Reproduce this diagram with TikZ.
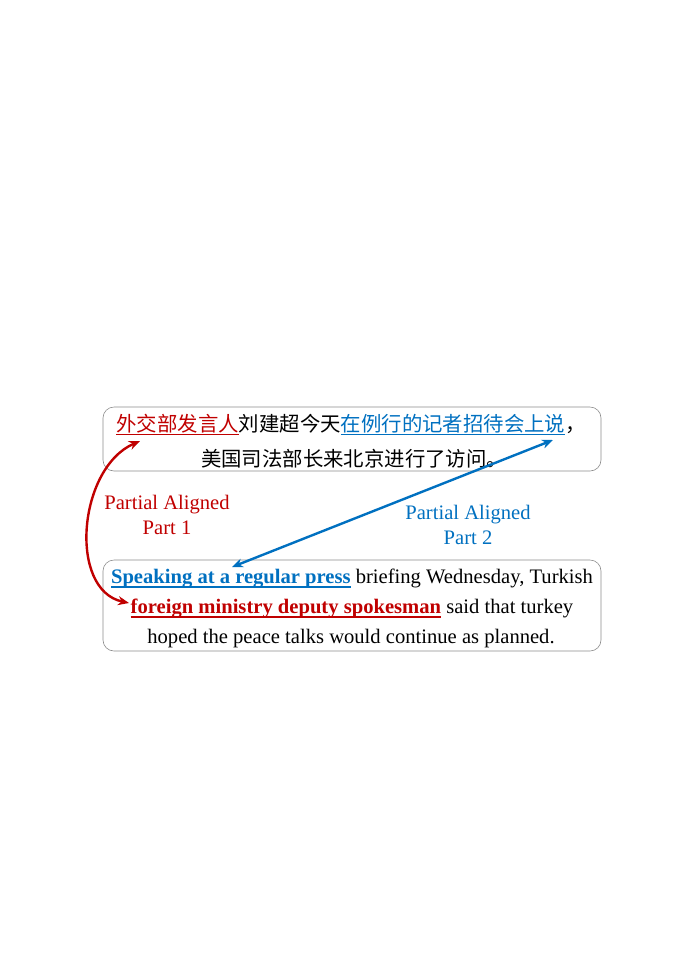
\documentclass[tikz,border=0pt]{standalone}
\usepackage{fontspec}
\setmainfont{Liberation Serif}
\newfontfamily\cjk{Noto Sans CJK SC}
\newcommand\myul[2][-4.2pt]{\setbox0\hbox{#2}\rlap{\rule[#1]{\wd0}{1.4pt}}\box0}
\usetikzlibrary{arrows.meta}
\definecolor{myred}{RGB}{192,0,0}
\definecolor{myblue}{RGB}{0,112,192}
\begin{document}
\begin{tikzpicture}[x=1pt,y=-1pt,
  box/.style={draw=black!45,line width=0.6pt,rounded corners=11pt},
  line/.style={anchor=base,inner sep=0pt,font=\fontsize{20.6}{24}\selectfont},
  cjkline/.style={anchor=base,inner sep=0pt,font=\fontsize{20.4}{24}\selectfont\cjk},
  lbl/.style={align=center,font=\fontsize{20.6}{24.5}\selectfont},
  conn/.style={line width=2.4pt,{Stealth[length=11pt,width=9pt]}-{Stealth[length=11pt,width=9pt]}}]
\useasboundingbox (0,0) rectangle (677,954);
% boxes
\draw[box] (103,407) rectangle (601,471);
\draw[box] (103,560) rectangle (601,651);
% top Chinese text
\node[cjkline] (c1) at (351,431) {\textcolor{myred}{\myul{外交部发言人}}刘建超今天\textcolor{myblue}{\myul{在例行的记者招待会上说}}，};
\node[cjkline] (c2) at (354,466) {美国司法部长来北京进行了访问。};
% bottom English text
\node[line] (e1) at (352,583) {\textcolor{myblue}{\textbf{\myul[-4.8pt]{Speaking at a regular press}}} briefing Wednesday, Turkish};
\node[line] (e2) at (352,613) {\textcolor{myred}{\textbf{\myul[-4.8pt]{foreign ministry deputy spokesman}}} said that turkey};
\node[line] (e3) at (351,643) {hoped the peace talks would continue as planned.};
% labels
\node[lbl,text=myred] (l1) at (167,515) {Partial Aligned\\Part 1};
\node[lbl,text=myblue] (l2) at (468,525) {Partial Aligned\\Part 2};
% connector end points
\coordinate (ra) at (129,603);
\coordinate (rb) at (140,441);
\coordinate (ba) at (232,567);
\coordinate (bb) at (553,440);
\draw[conn,myred] (ra) .. controls (68,590) and (78,468) .. (rb);
\draw[conn,myblue] (ba) -- (bb);
\end{tikzpicture}
\end{document}
